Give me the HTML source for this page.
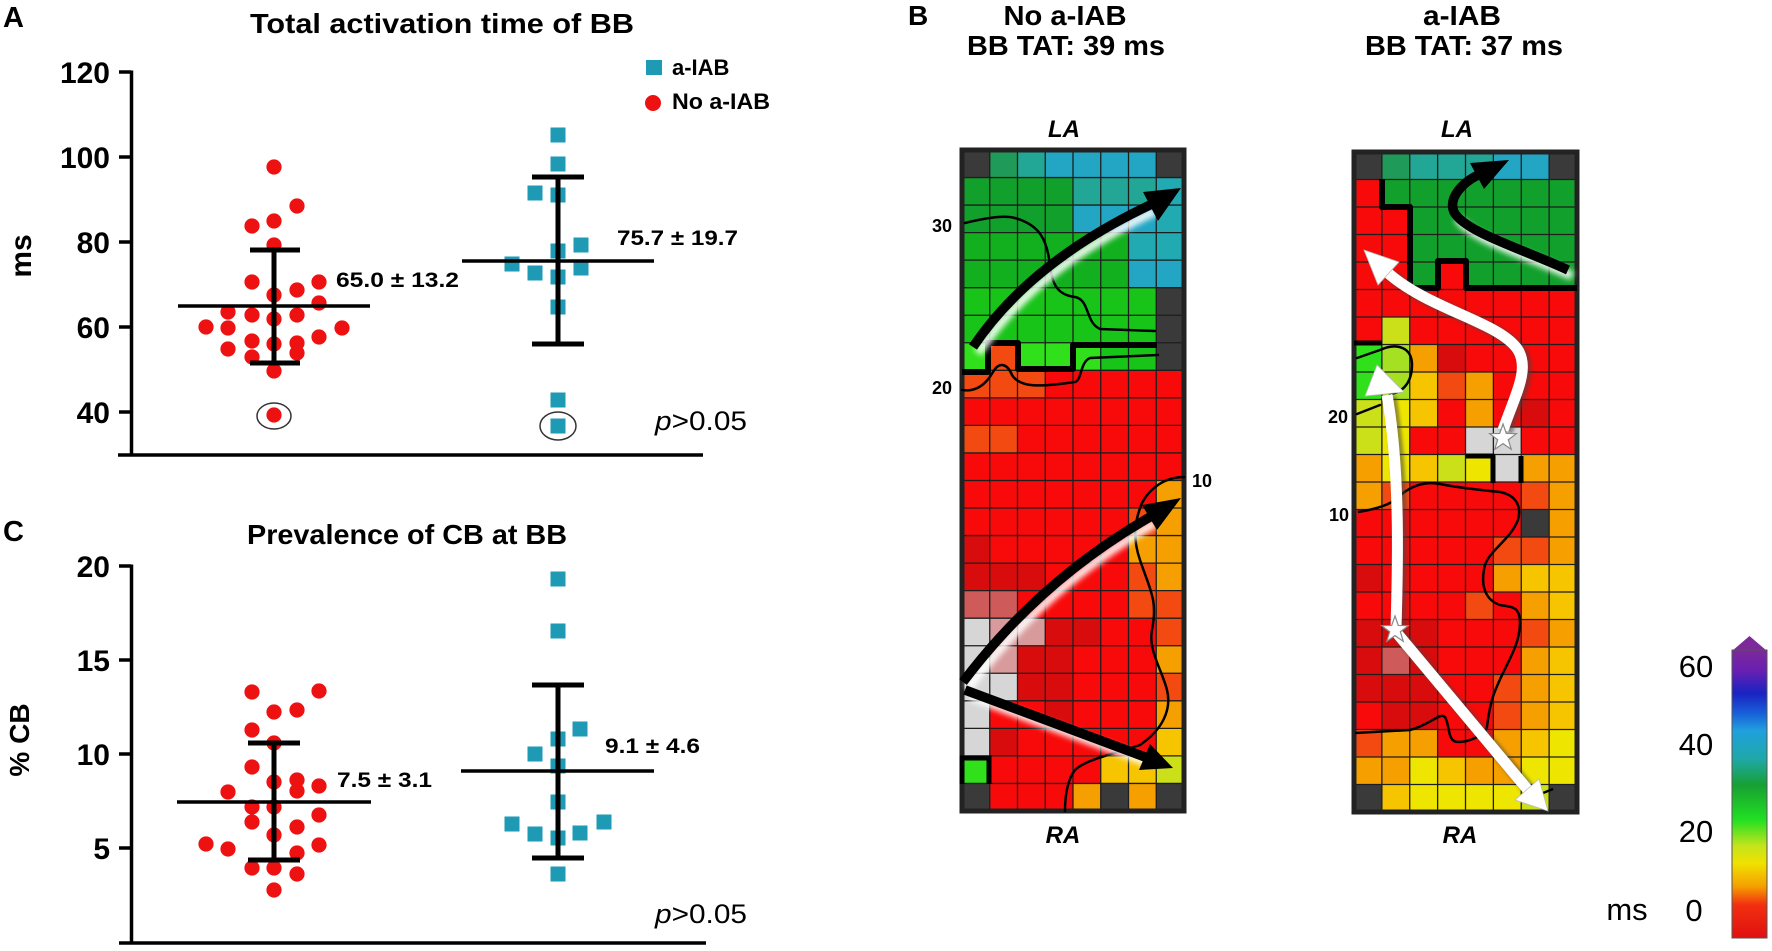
<!DOCTYPE html>
<html><head><meta charset="utf-8">
<style>
html,body{margin:0;padding:0;background:#fff;}
svg{display:block;font-family:"Liberation Sans",Arial,sans-serif;}
.D{fill:#3a3a3a}.G1{fill:#1f9a58}.T{fill:#22a696}.C{fill:#22a6c4}.T2{fill:#22aab2}
.Gd{fill:#12a02c}.G{fill:#12b01e}.Gl{fill:#18c418}.Gb{fill:#30e01a}
.R{fill:#f80a0a}.Rd{fill:#d80c0c}.O{fill:#f24a10}.Or{fill:#f5a000}.Y{fill:#f7c400}
.Yl{fill:#eee600}.YG{fill:#cce01a}.YG2{fill:#a6e022}.P{fill:#cf5a5a}.Pg{fill:#d89a9a}.Lg{fill:#d6d6d6}
.rd{fill:#ee1111}.tl{fill:#1e9ab4}
</style></head><body>
<svg width="1772" height="951" viewBox="0 0 1772 951" xmlns="http://www.w3.org/2000/svg">
<defs>
<filter id="bl" x="-20%" y="-20%" width="140%" height="140%"><feGaussianBlur stdDeviation="3"/></filter>
<filter id="bs" x="-20%" y="-20%" width="140%" height="140%"><feGaussianBlur stdDeviation="1.6"/></filter>
<linearGradient id="cb" x1="0" y1="0" x2="0" y2="1">
<stop offset="0" stop-color="#7c2a9a"/>
<stop offset="0.07" stop-color="#6a1fb0"/>
<stop offset="0.15" stop-color="#1a22c2"/>
<stop offset="0.22" stop-color="#1860d8"/>
<stop offset="0.28" stop-color="#20a0de"/>
<stop offset="0.38" stop-color="#1fa8a6"/>
<stop offset="0.47" stop-color="#17a032"/>
<stop offset="0.59" stop-color="#22e022"/>
<stop offset="0.68" stop-color="#c4e41c"/>
<stop offset="0.74" stop-color="#f0e200"/>
<stop offset="0.82" stop-color="#f5a000"/>
<stop offset="0.885" stop-color="#f23010"/>
<stop offset="1" stop-color="#e01010"/>
</linearGradient>
</defs>
<rect x="0" y="0" width="1772" height="951" fill="#fff"/>

<!-- ================= PANEL A ================= -->
<text x="3" y="27" font-size="29" font-weight="bold">A</text>
<text x="442" y="33" font-size="28" font-weight="bold" text-anchor="middle" textLength="384" lengthAdjust="spacingAndGlyphs">Total activation time of BB</text>
<g stroke="#000" stroke-width="3.5" fill="none">
<line x1="131.5" y1="70.5" x2="131.5" y2="456"/>
<line x1="118" y1="455" x2="703" y2="455"/>
<line x1="119" y1="72" x2="131" y2="72"/>
<line x1="119" y1="157" x2="131" y2="157"/>
<line x1="119" y1="242" x2="131" y2="242"/>
<line x1="119" y1="327" x2="131" y2="327"/>
<line x1="119" y1="412" x2="131" y2="412"/>
</g>
<g font-size="30" font-weight="bold" text-anchor="end">
<text x="110" y="83">120</text>
<text x="110" y="168">100</text>
<text x="110" y="253">80</text>
<text x="110" y="338">60</text>
<text x="110" y="423">40</text>
</g>
<text transform="translate(31,256) rotate(-90)" font-size="30" font-weight="bold" text-anchor="middle">ms</text>

<!-- legend -->
<rect class="tl" x="646" y="60" width="16" height="15"/>
<text x="672" y="75" font-size="22" font-weight="bold">a-IAB</text>
<circle class="rd" cx="653" cy="103" r="8"/>
<text x="672" y="109" font-size="22" font-weight="bold" textLength="98" lengthAdjust="spacingAndGlyphs">No a-IAB</text>

<!-- red dots A -->
<g class="rd">
<circle cx="274" cy="167" r="7.6"/><circle cx="297" cy="206" r="7.6"/><circle cx="252" cy="226" r="7.6"/><circle cx="274" cy="221" r="7.6"/>
<circle cx="274" cy="245" r="7.6"/><circle cx="252" cy="282" r="7.6"/><circle cx="319" cy="282" r="7.6"/><circle cx="297" cy="290" r="7.6"/>
<circle cx="274" cy="295" r="7.6"/><circle cx="228" cy="312" r="7.6"/><circle cx="319" cy="303" r="7.6"/><circle cx="252" cy="315" r="7.6"/>
<circle cx="274" cy="319" r="7.6"/><circle cx="297" cy="315" r="7.6"/><circle cx="206" cy="327" r="7.6"/><circle cx="228" cy="328" r="7.6"/>
<circle cx="342" cy="328" r="7.6"/><circle cx="319" cy="337" r="7.6"/><circle cx="252" cy="341" r="7.6"/><circle cx="274" cy="344" r="7.6"/>
<circle cx="297" cy="343" r="7.6"/><circle cx="228" cy="349" r="7.6"/><circle cx="297" cy="353" r="7.6"/><circle cx="252" cy="357" r="7.6"/>
<circle cx="274" cy="371" r="7.6"/><circle cx="274" cy="415" r="7.6"/>
</g>
<ellipse cx="274" cy="416" rx="17" ry="13" fill="none" stroke="#333" stroke-width="1.5"/>
<!-- teal squares A -->
<g class="tl">
<rect x="550.5" y="127.5" width="15" height="15"/><rect x="550.5" y="156.5" width="15" height="15"/>
<rect x="527.5" y="185.5" width="15" height="15"/><rect x="550.5" y="187.5" width="15" height="15"/>
<rect x="573.5" y="237.5" width="15" height="15"/><rect x="550.5" y="243.5" width="15" height="15"/>
<rect x="504.5" y="256.5" width="15" height="15"/><rect x="527.5" y="265.5" width="15" height="15"/>
<rect x="573.5" y="260.5" width="15" height="15"/><rect x="550.5" y="269.5" width="15" height="15"/>
<rect x="550.5" y="299.5" width="15" height="15"/><rect x="550.5" y="392.5" width="15" height="15"/>
<rect x="550.5" y="418.5" width="15" height="15"/>
</g>
<ellipse cx="558" cy="426" rx="18" ry="14" fill="none" stroke="#333" stroke-width="1.5"/>
<!-- bars A -->
<g stroke="#000" fill="none">
<line x1="178" y1="306" x2="370" y2="306" stroke-width="3.5"/>
<line x1="274" y1="250" x2="274" y2="363" stroke-width="5"/>
<line x1="250" y1="250" x2="300" y2="250" stroke-width="5"/>
<line x1="250" y1="363" x2="300" y2="363" stroke-width="5"/>
<line x1="462" y1="261" x2="654" y2="261" stroke-width="3.5"/>
<line x1="558" y1="177" x2="558" y2="344" stroke-width="5"/>
<line x1="532" y1="177" x2="584" y2="177" stroke-width="5"/>
<line x1="532" y1="344" x2="584" y2="344" stroke-width="5"/>
</g>
<text x="336" y="287" font-size="21" font-weight="bold" textLength="123" lengthAdjust="spacingAndGlyphs">65.0 ± 13.2</text>
<text x="617" y="245" font-size="21" font-weight="bold" textLength="121" lengthAdjust="spacingAndGlyphs">75.7 ± 19.7</text>
<text x="655" y="430" font-size="27" textLength="92" lengthAdjust="spacingAndGlyphs"><tspan font-style="italic">p</tspan>&gt;0.05</text>

<!-- ================= PANEL C ================= -->
<text x="3" y="541" font-size="29" font-weight="bold">C</text>
<text x="407" y="544" font-size="28" font-weight="bold" text-anchor="middle" textLength="320" lengthAdjust="spacingAndGlyphs">Prevalence of CB at BB</text>
<g stroke="#000" stroke-width="3.5" fill="none">
<line x1="131.5" y1="564.5" x2="131.5" y2="944"/>
<line x1="119" y1="943" x2="706" y2="943"/>
<line x1="119" y1="566" x2="131" y2="566"/>
<line x1="119" y1="660" x2="131" y2="660"/>
<line x1="119" y1="754" x2="131" y2="754"/>
<line x1="119" y1="848" x2="131" y2="848"/>
</g>
<g font-size="30" font-weight="bold" text-anchor="end">
<text x="110" y="577">20</text>
<text x="110" y="671">15</text>
<text x="110" y="765">10</text>
<text x="110" y="859">5</text>
</g>
<text transform="translate(29,740) rotate(-90)" font-size="28" font-weight="bold" text-anchor="middle">% CB</text>

<g class="rd">
<circle cx="252" cy="692" r="7.6"/><circle cx="319" cy="691" r="7.6"/><circle cx="274" cy="712" r="7.6"/><circle cx="297" cy="710" r="7.6"/>
<circle cx="252" cy="730" r="7.6"/><circle cx="274" cy="743" r="7.6"/><circle cx="252" cy="767" r="7.6"/><circle cx="274" cy="782" r="7.6"/>
<circle cx="297" cy="780" r="7.6"/><circle cx="297" cy="791" r="7.6"/><circle cx="319" cy="786" r="7.6"/><circle cx="228" cy="792" r="7.6"/>
<circle cx="252" cy="807" r="7.6"/><circle cx="274" cy="807" r="7.6"/><circle cx="252" cy="822" r="7.6"/><circle cx="319" cy="815" r="7.6"/>
<circle cx="297" cy="827" r="7.6"/><circle cx="274" cy="835" r="7.6"/><circle cx="206" cy="844" r="7.6"/><circle cx="228" cy="849" r="7.6"/>
<circle cx="319" cy="845" r="7.6"/><circle cx="297" cy="853" r="7.6"/><circle cx="252" cy="868" r="7.6"/><circle cx="274" cy="868" r="7.6"/>
<circle cx="297" cy="874" r="7.6"/><circle cx="274" cy="890" r="7.6"/>
</g>
<g class="tl">
<rect x="550.5" y="571.5" width="15" height="15"/><rect x="550.5" y="623.5" width="15" height="15"/>
<rect x="572.5" y="721.5" width="15" height="15"/><rect x="550.5" y="731.5" width="15" height="15"/>
<rect x="527.5" y="746.5" width="15" height="15"/><rect x="550.5" y="758.5" width="15" height="15"/>
<rect x="550.5" y="794.5" width="15" height="15"/><rect x="504.5" y="816.5" width="15" height="15"/>
<rect x="596.5" y="814.5" width="15" height="15"/><rect x="527.5" y="826.5" width="15" height="15"/>
<rect x="550.5" y="830.5" width="15" height="15"/><rect x="572.5" y="825.5" width="15" height="15"/>
<rect x="550.5" y="866.5" width="15" height="15"/>
</g>
<g stroke="#000" fill="none">
<line x1="177" y1="802" x2="371" y2="802" stroke-width="3.5"/>
<line x1="274" y1="743" x2="274" y2="860" stroke-width="5"/>
<line x1="248" y1="743" x2="300" y2="743" stroke-width="5"/>
<line x1="248" y1="860" x2="300" y2="860" stroke-width="5"/>
<line x1="461" y1="771" x2="654" y2="771" stroke-width="3.5"/>
<line x1="558" y1="685" x2="558" y2="858" stroke-width="5"/>
<line x1="532" y1="685" x2="584" y2="685" stroke-width="5"/>
<line x1="532" y1="858" x2="584" y2="858" stroke-width="5"/>
</g>
<text x="337" y="787" font-size="21" font-weight="bold" textLength="95" lengthAdjust="spacingAndGlyphs">7.5 ± 3.1</text>
<text x="605" y="753" font-size="21" font-weight="bold" textLength="95" lengthAdjust="spacingAndGlyphs">9.1 ± 4.6</text>
<text x="655" y="923" font-size="27" textLength="92" lengthAdjust="spacingAndGlyphs"><tspan font-style="italic">p</tspan>&gt;0.05</text>

<!-- ================= PANEL B ================= -->
<text x="908" y="25" font-size="28" font-weight="bold">B</text>
<text x="1065" y="25" font-size="28" font-weight="bold" text-anchor="middle" textLength="123" lengthAdjust="spacingAndGlyphs">No a-IAB</text>
<text x="1066" y="55" font-size="28" font-weight="bold" text-anchor="middle" textLength="198" lengthAdjust="spacingAndGlyphs">BB TAT: 39 ms</text>
<text x="1462" y="25" font-size="28" font-weight="bold" text-anchor="middle" textLength="78" lengthAdjust="spacingAndGlyphs">a-IAB</text>
<text x="1464" y="55" font-size="28" font-weight="bold" text-anchor="middle" textLength="198" lengthAdjust="spacingAndGlyphs">BB TAT: 37 ms</text>

<text x="1064" y="137" font-size="24" font-weight="bold" font-style="italic" text-anchor="middle">LA</text>
<text x="1063" y="843" font-size="24" font-weight="bold" font-style="italic" text-anchor="middle">RA</text>
<text x="1457" y="137" font-size="24" font-weight="bold" font-style="italic" text-anchor="middle">LA</text>
<text x="1460" y="843" font-size="24" font-weight="bold" font-style="italic" text-anchor="middle">RA</text>

<g font-size="18" font-weight="bold">
<text x="952" y="232" text-anchor="end">30</text>
<text x="952" y="394" text-anchor="end">20</text>
<text x="1192" y="487">10</text>
<text x="1348" y="423" text-anchor="end">20</text>
<text x="1349" y="521" text-anchor="end">10</text>
</g>

<!-- Left map -->
<g transform="translate(962,150) scale(27.75,27.54)">
<rect class="R" x="0" y="0" width="8" height="24"/>
<rect class="D" x="0" y="0" width="1" height="1"/><rect class="G1" x="1" y="0" width="1" height="1"/><rect class="T" x="2" y="0" width="1" height="1"/><rect class="C" x="3" y="0" width="4" height="1"/><rect class="D" x="7" y="0" width="1" height="1"/>
<rect class="Gd" x="0" y="1" width="4" height="1"/><rect class="T" x="4" y="1" width="3" height="1"/><rect class="T2" x="7" y="1" width="1" height="1"/>
<rect class="Gd" x="0" y="2" width="4" height="1"/><rect class="C" x="4" y="2" width="3" height="1"/><rect class="T2" x="7" y="2" width="1" height="1"/>
<rect class="G" x="0" y="3" width="6" height="1"/><rect class="T2" x="6" y="3" width="2" height="1"/>
<rect class="G" x="0" y="4" width="6" height="1"/><rect class="C" x="6" y="4" width="2" height="1"/>
<rect class="Gl" x="0" y="5" width="7" height="1"/><rect class="D" x="7" y="5" width="1" height="1"/>
<rect class="Gl" x="0" y="6" width="7" height="1"/><rect class="D" x="7" y="6" width="1" height="1"/>
<rect class="Gb" x="0" y="7" width="1" height="1"/><rect class="O" x="1" y="7" width="1" height="1"/><rect class="Gb" x="2" y="7" width="3" height="1"/><rect class="Gl" x="5" y="7" width="2" height="1"/><rect class="D" x="7" y="7" width="1" height="1"/>
<rect class="O" x="0" y="8" width="3" height="1"/>
<rect class="O" x="0" y="10" width="2" height="1"/>
<rect class="Or" x="7" y="12" width="1" height="1"/>
<rect class="O" x="6" y="13" width="1" height="1"/><rect class="Or" x="7" y="13" width="1" height="1"/>
<rect class="Rd" x="0" y="14" width="1" height="1"/><rect class="Or" x="6" y="14" width="2" height="1"/>
<rect class="Rd" x="0" y="15" width="3" height="1"/><rect class="O" x="6" y="15" width="1" height="1"/><rect class="Or" x="7" y="15" width="1" height="1"/>
<rect class="P" x="0" y="16" width="2" height="1"/><rect class="O" x="6" y="16" width="2" height="1"/>
<rect class="Lg" x="0" y="17" width="1" height="1"/><rect class="Pg" x="1" y="17" width="2" height="1"/><rect class="Rd" x="3" y="17" width="2" height="1"/><rect class="O" x="7" y="17" width="1" height="1"/>
<rect class="Lg" x="0" y="18" width="1" height="1"/><rect class="Pg" x="1" y="18" width="1" height="1"/><rect class="Rd" x="2" y="18" width="2" height="1"/><rect class="Or" x="7" y="18" width="1" height="1"/>
<rect class="Lg" x="0" y="19" width="2" height="1"/><rect class="Rd" x="2" y="19" width="2" height="1"/><rect class="O" x="7" y="19" width="1" height="1"/>
<rect class="Lg" x="0" y="20" width="1" height="1"/><rect class="Rd" x="3" y="20" width="1" height="1"/><rect class="Or" x="7" y="20" width="1" height="1"/>
<rect class="Lg" x="0" y="21" width="1" height="1"/><rect class="Rd" x="1" y="21" width="1" height="1"/><rect class="Y" x="7" y="21" width="1" height="1"/>
<rect class="Gb" x="0" y="22" width="1" height="1"/><rect class="Y" x="5" y="22" width="2" height="1"/><rect class="YG" x="7" y="22" width="1" height="1"/>
<rect class="D" x="0" y="23" width="1" height="1"/><rect class="Or" x="4" y="23" width="1" height="1"/><rect class="D" x="5" y="23" width="1" height="1"/><rect class="Or" x="6" y="23" width="1" height="1"/><rect class="D" x="7" y="23" width="1" height="1"/>
<path d="M1 0V24M2 0V24M3 0V24M4 0V24M5 0V24M6 0V24M7 0V24M0 1H8M0 2H8M0 3H8M0 4H8M0 5H8M0 6H8M0 7H8M0 8H8M0 9H8M0 10H8M0 11H8M0 12H8M0 13H8M0 14H8M0 15H8M0 16H8M0 17H8M0 18H8M0 19H8M0 20H8M0 21H8M0 22H8M0 23H8" stroke="#1e1e1e" stroke-width="1.3" fill="none" vector-effect="non-scaling-stroke"/>
</g>
<rect x="962" y="150" width="222" height="661" fill="none" stroke="#222" stroke-width="5"/>

<!-- Left map contours -->
<g fill="none" stroke="#000" stroke-linecap="round" stroke-linejoin="round">
<path d="M965,223 C985,218 1005,215 1015,218 C1040,225 1047,240 1050,265 C1052,285 1058,295 1075,297 C1090,300 1085,322 1100,329 L1155,331" stroke-width="2.5"/>
<path d="M962,372 L988,372 L988,343 L1018,343 L1018,369 L1073,369 L1073,345 L1157,345" stroke-width="6" stroke-linecap="butt"/>
<path d="M962,390 C975,392 985,386 993,372 C1000,360 1008,365 1012,375 C1020,388 1040,387 1075,382 C1082,380 1080,362 1090,358 L1158,355" stroke-width="2.5"/>
<path d="M1184,477 C1165,477 1150,488 1142,503 C1135,520 1132,537 1140,560 C1150,590 1158,600 1152,630 C1148,650 1162,670 1167,690 C1172,710 1162,730 1140,745 C1110,755 1085,760 1075,770 C1066,782 1065,800 1065,811" stroke-width="2.5"/>
</g>
<path d="M962,784 L962,758 L989,758 L989,784" fill="none" stroke="#000" stroke-width="5"/>
<g opacity="0.9" filter="url(#bl)" fill="none" stroke="#fff" stroke-width="9">
<path d="M978,353 Q1035,268 1155,211"/>
<path d="M968,688 Q1045,586 1155,523"/>
<path d="M970,696 L1150,763"/>
</g>
<g fill="none" stroke="#000" stroke-width="9.5">
<path d="M973,347 Q1030,262 1150,205"/>
<path d="M963,682 Q1040,580 1150,517"/>
<path d="M965,690 L1145,757"/>
</g>
<g fill="#000">
<polygon points="1181,188 1143,192 1158,221"/>
<polygon points="1181,498 1142,505 1157,530"/>
<polygon points="1173,768 1139,770 1150,744"/>
</g>

<!-- Right map -->
<g transform="translate(1354,152) scale(27.875,27.5)">
<rect class="R" x="0" y="0" width="8" height="24"/>
<rect class="D" x="0" y="0" width="1" height="1"/><rect class="G1" x="1" y="0" width="1" height="1"/><rect class="T" x="2" y="0" width="3" height="1"/><rect class="C" x="5" y="0" width="2" height="1"/><rect class="D" x="7" y="0" width="1" height="1"/>
<rect class="Gd" x="1" y="1" width="7" height="1"/>
<rect class="Gd" x="2" y="2" width="6" height="1"/>
<rect class="Gd" x="2" y="3" width="6" height="1"/>
<rect class="Gd" x="2" y="4" width="1" height="1"/><rect class="Gd" x="4" y="4" width="4" height="1"/>
<rect class="YG" x="1" y="6" width="1" height="1"/>
<rect class="Gb" x="0" y="7" width="1" height="1"/><rect class="YG2" x="1" y="7" width="1" height="1"/><rect class="Or" x="2" y="7" width="1" height="1"/><rect class="Rd" x="3" y="7" width="1" height="1"/>
<rect class="Gb" x="0" y="8" width="1" height="1"/><rect class="YG2" x="1" y="8" width="1" height="1"/><rect class="Y" x="2" y="8" width="1" height="1"/><rect class="O" x="3" y="8" width="1" height="1"/><rect class="Or" x="4" y="8" width="1" height="1"/>
<rect class="YG" x="0" y="9" width="1" height="1"/><rect class="Yl" x="1" y="9" width="1" height="1"/><rect class="Y" x="2" y="9" width="1" height="1"/><rect class="Or" x="4" y="9" width="1" height="1"/><rect class="Rd" x="6" y="9" width="1" height="1"/>
<rect class="YG" x="0" y="10" width="1" height="1"/><rect class="Yl" x="1" y="10" width="1" height="1"/><rect class="Lg" x="4" y="10" width="2" height="1"/>
<rect class="Or" x="0" y="11" width="1" height="1"/><rect class="Yl" x="1" y="11" width="1" height="1"/><rect class="Y" x="2" y="11" width="1" height="1"/><rect class="YG" x="3" y="11" width="1" height="1"/><rect class="Yl" x="4" y="11" width="1" height="1"/><rect class="Lg" x="5" y="11" width="1" height="1"/><rect class="Or" x="6" y="11" width="2" height="1"/>
<rect class="Or" x="0" y="12" width="1" height="1"/><rect class="O" x="1" y="12" width="1" height="1"/><rect class="O" x="6" y="12" width="1" height="1"/><rect class="Or" x="7" y="12" width="1" height="1"/>
<rect class="D" x="6" y="13" width="1" height="1"/><rect class="Or" x="7" y="13" width="1" height="1"/>
<rect class="O" x="5" y="14" width="2" height="1"/><rect class="Or" x="7" y="14" width="1" height="1"/>
<rect class="Rd" x="0" y="15" width="1" height="1"/><rect class="Or" x="5" y="15" width="1" height="1"/><rect class="Y" x="6" y="15" width="2" height="1"/>
<rect class="O" x="4" y="16" width="1" height="1"/><rect class="Or" x="6" y="16" width="1" height="1"/><rect class="Y" x="7" y="16" width="1" height="1"/>
<rect class="Rd" x="0" y="17" width="3" height="1"/><rect class="O" x="6" y="17" width="1" height="1"/><rect class="Or" x="7" y="17" width="1" height="1"/>
<rect class="Rd" x="0" y="18" width="1" height="1"/><rect class="P" x="1" y="18" width="1" height="1"/><rect class="Rd" x="2" y="18" width="1" height="1"/><rect class="Or" x="6" y="18" width="1" height="1"/><rect class="Y" x="7" y="18" width="1" height="1"/>
<rect class="Rd" x="0" y="19" width="3" height="1"/><rect class="O" x="5" y="19" width="1" height="1"/><rect class="Or" x="6" y="19" width="1" height="1"/><rect class="Y" x="7" y="19" width="1" height="1"/>
<rect class="Rd" x="1" y="20" width="2" height="1"/><rect class="O" x="5" y="20" width="1" height="1"/><rect class="Or" x="6" y="20" width="1" height="1"/><rect class="Y" x="7" y="20" width="1" height="1"/>
<rect class="O" x="0" y="21" width="1" height="1"/><rect class="Or" x="1" y="21" width="2" height="1"/><rect class="Or" x="5" y="21" width="1" height="1"/><rect class="Y" x="6" y="21" width="1" height="1"/><rect class="Yl" x="7" y="21" width="1" height="1"/>
<rect class="Or" x="0" y="22" width="2" height="1"/><rect class="Yl" x="2" y="22" width="1" height="1"/><rect class="Y" x="3" y="22" width="1" height="1"/><rect class="Or" x="4" y="22" width="2" height="1"/><rect class="Yl" x="6" y="22" width="2" height="1"/>
<rect class="D" x="0" y="23" width="1" height="1"/><rect class="Y" x="1" y="23" width="1" height="1"/><rect class="Yl" x="2" y="23" width="4" height="1"/><rect class="YG" x="6" y="23" width="1" height="1"/><rect class="D" x="7" y="23" width="1" height="1"/>
<path d="M1 0V24M2 0V24M3 0V24M4 0V24M5 0V24M6 0V24M7 0V24M0 1H8M0 2H8M0 3H8M0 4H8M0 5H8M0 6H8M0 7H8M0 8H8M0 9H8M0 10H8M0 11H8M0 12H8M0 13H8M0 14H8M0 15H8M0 16H8M0 17H8M0 18H8M0 19H8M0 20H8M0 21H8M0 22H8M0 23H8" stroke="#1e1e1e" stroke-width="1.3" fill="none" vector-effect="non-scaling-stroke"/>
</g>
<rect x="1354" y="152" width="223" height="660" fill="none" stroke="#222" stroke-width="5"/>

<!-- Right map contours -->
<g fill="none" stroke="#000" stroke-linejoin="round">
<path d="M1382,179 L1382,207 L1410,207 L1410,288 L1438,288 L1438,261 L1466,261 L1466,288 L1577,288" stroke-width="6"/>
<path d="M1354,343 L1382,343" stroke-width="5"/>
<path d="M1466,456 L1493,456 L1493,483 M1521,456 L1521,483" stroke-width="5"/>
<path d="M1357,358 L1380,350 C1398,342 1412,348 1412,365 C1412,380 1405,392 1390,394" stroke-width="2.5" stroke-linecap="round"/>
<path d="M1357,414 L1380,405" stroke-width="2.5" stroke-linecap="round"/>
<path d="M1355,733 L1410,730 C1430,725 1440,712 1445,717 C1450,725 1447,742 1458,742 C1470,742 1485,735 1487,727 C1490,700 1495,690 1503,673 C1512,655 1520,640 1520,623 C1520,605 1510,607 1500,605 C1485,600 1480,585 1485,565 C1490,550 1510,540 1518,520 C1522,505 1515,495 1500,492 C1480,490 1460,488 1440,484 C1420,480 1405,490 1395,500 C1385,507 1370,510 1358,512" stroke-width="2.5"/>
<path d="M1543,793 L1553,789" stroke-width="2.5"/>
</g>
<path d="M1572,276 C1524,254 1469,238 1458,218" fill="none" stroke="#fff" stroke-width="9" opacity="0.9" filter="url(#bl)"/>
<path d="M1568,270 C1520,248 1465,232 1454,212 C1448,198 1462,183 1478,175" fill="none" stroke="#000" stroke-width="9.5"/>
<polygon points="1509,160 1470,163 1484,189" fill="#000"/>

<g fill="none" stroke="#444" stroke-width="13" opacity="0.55" filter="url(#bs)" transform="translate(3,2)">
<path d="M1503,430 C1515,395 1530,370 1518,350 C1500,322 1430,310 1388,273"/>
<path d="M1396,628 C1398,560 1400,470 1387,395"/>
<path d="M1396,632 L1528,790"/>
</g>
<g fill="none" stroke="#fff" stroke-width="11">
<path d="M1503,430 C1515,395 1530,370 1518,350 C1500,322 1430,310 1388,273"/>
<path d="M1396,628 C1398,560 1400,470 1387,395"/>
<path d="M1396,632 L1528,790"/>
</g>
<g fill="#fff" stroke="#bbb" stroke-width="0.8">
<polygon points="1364,250 1399,262 1378,285"/>
<polygon points="1377,365 1365,396 1404,392"/>
<polygon points="1548,811 1539,779 1515,800"/>
</g>
<g fill="#fff" stroke="#888" stroke-width="1.2">
<polygon transform="translate(1503,438)" points="0,-14 3.29,-4.53 13.31,-4.33 5.33,1.73 8.23,11.33 0,5.6 -8.23,11.33 -5.33,1.73 -13.31,-4.33 -3.29,-4.53"/>
<polygon transform="translate(1395,630)" points="0,-14 3.29,-4.53 13.31,-4.33 5.33,1.73 8.23,11.33 0,5.6 -8.23,11.33 -5.33,1.73 -13.31,-4.33 -3.29,-4.53"/>
</g>

<!-- Colorbar -->
<polygon points="1732,651 1749.5,636 1767,651" fill="#7c2a9a"/>
<rect x="1732" y="650" width="35" height="288" fill="url(#cb)" stroke="#555" stroke-width="1"/>
<g font-size="31" text-anchor="middle">
<text x="1696" y="677">60</text>
<text x="1696" y="755">40</text>
<text x="1696" y="842">20</text>
<text x="1694" y="921">0</text>
<text x="1627" y="920">ms</text>
</g>
</svg>
</body></html>
